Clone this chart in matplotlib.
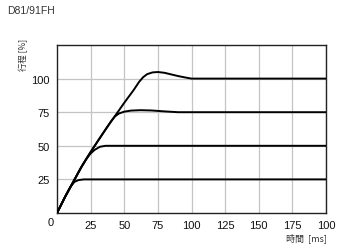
import matplotlib
matplotlib.use('Agg')
import matplotlib.pyplot as plt

matplotlib.rcParams.update({'font.size': 7.5, 'font.family': ['Liberation Sans', 'DejaVu Sans']})
cjk = ['Noto Sans CJK JP', 'DejaVu Sans']

# stroke curves (time ms, stroke %)
t25 = [0, 6, 10, 13, 16, 20, 200]
s25 = [0, 12, 19.5, 23.2, 24.5, 25, 25]
t50 = [0, 6, 12, 18, 22, 25, 28, 32, 36, 200]
s50 = [0, 12, 23, 34, 40.5, 44.3, 47, 49.3, 50, 50]
t75 = [0, 6, 12, 18, 24.5, 30, 36, 40, 43, 46, 50, 55, 62, 70, 80, 90, 200]
s75 = [0, 12, 23, 34, 44.6, 53, 62, 68, 71.8, 74, 75.4, 76.2, 76.5, 76.3, 75.6, 75, 75]
t100 = [0, 6, 12, 18, 24.5, 30, 36, 43, 50, 57, 61, 64, 67, 71, 75, 80, 85, 90, 95, 100, 200]
s100 = [0, 12, 23, 34, 44.6, 53, 62, 72, 82, 91.5, 97.5, 101, 103.3, 104.6, 104.9, 104.3, 103.1, 101.9, 100.9, 100, 100]

xticks = [25, 50, 75, 100, 125, 150, 175, 200]
xticklabels = ['25', '50', '75', '100', '125', '150', '175', '100']
yticks = [25, 50, 75, 100]

fig = plt.figure(figsize=(3.4, 2.51), dpi=100)
ax = fig.add_axes([57/340, 1-214/251, 269/340, 168/251])

for t, s in [(t25, s25), (t50, s50), (t75, s75), (t100, s100)]:
    ax.plot(t, s, color='black', lw=1.4, solid_joinstyle='round', zorder=3)

ax.set_xlim(0, 200)
ax.set_ylim(0, 125)
ax.set_xticks(xticks)
ax.set_xticklabels(xticklabels)
ax.set_yticks(yticks)
ax.tick_params(length=0, pad=5, labelsize=8, colors='#111111')
ax.grid(True, color='#c4c4c4', lw=0.9)
for sp in ax.spines.values():
    sp.set_linewidth(1.0)
    sp.set_color('#222222')

# origin label shared by both axes
ax.text(-5, -7, '0', ha='center', va='center', fontsize=8, color='#111111', clip_on=False)

fig.text(7/340, 1-11/251, 'D81/91FH', ha='left', va='center', fontsize=7.5, color='#333333')
fig.text(23/340, 1-55/251, '行程 [%]', rotation=90, ha='center', va='center', fontsize=6, family=cjk, color='#333333')
fig.text(327/340, 1-238/251, '時間  [ms]', ha='right', va='center', fontsize=6.5, family=cjk, color='#333333')

fig.savefig('out.png', dpi=100)
